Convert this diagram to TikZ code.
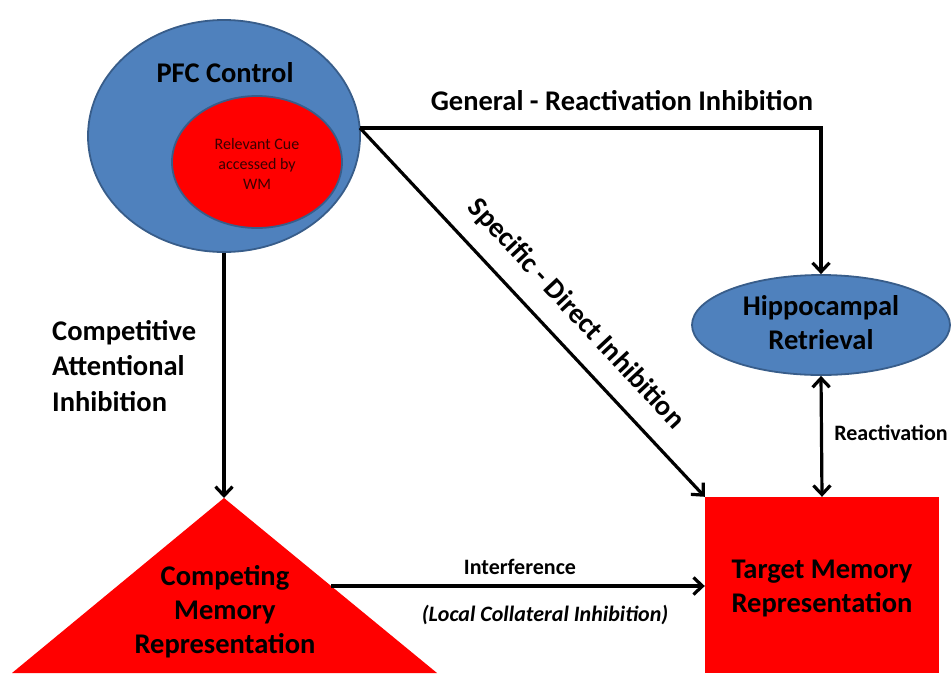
\documentclass[tikz,border=0pt]{standalone}
\usepackage{fontspec}
\setmainfont{Carlito}
\usetikzlibrary{arrows.meta,shapes.geometric}
\definecolor{pblue}{HTML}{4F81BD}
\definecolor{pborder}{HTML}{385D8A}
\definecolor{cuetext}{HTML}{3A0000}
\tikzset{
  conn/.style={line width=3.2pt,-{Straight Barb[length=9pt,width=17pt]}},
  dconn/.style={line width=3.2pt,{Straight Barb[length=9pt,width=17pt]}-{Straight Barb[length=9pt,width=17pt]}},
  bigtxt/.style={font=\bfseries\fontsize{28.5}{34}\selectfont,align=center,inner sep=0pt},
  smalltxt/.style={font=\bfseries\fontsize{22}{26}\selectfont,inner sep=0pt},
  blueell/.style={ellipse,fill=pblue,draw=pborder,line width=1.8pt,inner sep=0pt},
}
\begin{document}
\begin{tikzpicture}[x=1pt,y=-1pt]
\useasboundingbox (0,0) rectangle (952,673);
% PFC
\node[blueell,minimum width=272pt,minimum height=232pt] (pfc) at (224,136) {};
\node[ellipse,fill=red,draw=pborder,line width=1.8pt,minimum width=170pt,minimum height=132pt,inner sep=0pt] (cue) at (257,162) {};
\node[bigtxt] (pfct) at (225,73) {PFC Control};
\node[font=\fontsize{16}{20}\selectfont,align=center,text=cuetext,inner sep=0pt] (cuet) at (257,164) {Relevant Cue\\accessed by\\WM};
% Hippocampal
\node[blueell,minimum width=258pt,minimum height=100pt] (hip) at (821,325) {};
\node[bigtxt] (hipt) at (821,323) {Hippocampal\\Retrieval};
% Target
\node[fill=red,minimum width=234pt,minimum height=176pt,inner sep=0pt] (tgt) at (822,585) {};
\node[bigtxt] (tgtt) at (822,588) {Target Memory\\Representation};
% Competing triangle
\coordinate (apex) at (224,498);
\coordinate (tl) at (12,673);
\coordinate (tr) at (437,673);
\fill[red] (apex) -- (tr) -- (tl) -- cycle;
\node[bigtxt] (cmpt) at (225,612) {Competing\\Memory\\Representation};
\coordinate (tedge) at (331,586);
% connectors
\coordinate (pfcr) at (360,128);
\coordinate (corner) at (821,128);
\draw[conn] (pfc.south) -- (apex);
\draw[conn] (pfcr) -- (corner) -- (hip.north);
\draw[conn] (pfcr) -- (tgt.north west);
\draw[dconn] (hip.south) -- (tgt.north);
\draw[conn] (tedge) -- (tedge -| tgt.west);
% labels
\node[bigtxt] (gen) at (622,101) {General - Reactivation Inhibition};
\node[bigtxt,align=left,anchor=west,font=\bfseries\fontsize{28.5}{35.5}\selectfont] (comp) at (52,366) {Competitive\\Attentional\\Inhibition};
\node[bigtxt,rotate=-47] (spec) at (576,314) {Specific - Direct Inhibition};
\node[smalltxt] (react) at (891,433) {Reactivation};
\node[smalltxt] (interf) at (520,567) {Interference};
\node[smalltxt,font=\bfseries\itshape\fontsize{22}{26}\selectfont] (local) at (545,615) {(Local Collateral Inhibition)};
\end{tikzpicture}
\end{document}
